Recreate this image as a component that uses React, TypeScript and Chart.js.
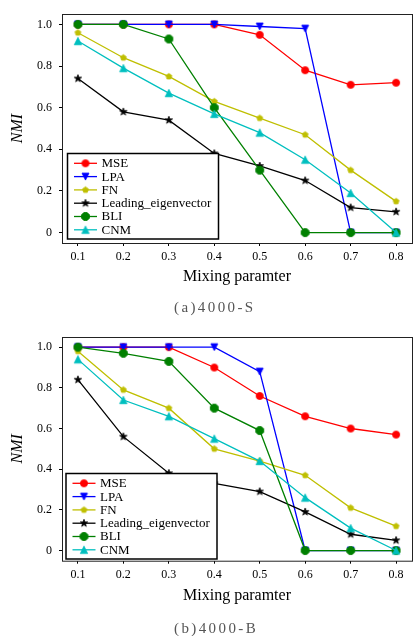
import React, { useEffect, useRef } from 'react';
import { Chart, registerables } from 'chart.js';

Chart.register(...registerables);

// ---------- data ----------
const mixing = [0.1, 0.2, 0.3, 0.4, 0.5, 0.6, 0.7, 0.8];
const xTickValues = [0.1, 0.2, 0.3, 0.4, 0.5, 0.6, 0.7, 0.8];
const yTickValues = [0, 0.2, 0.4, 0.6, 0.8, 1.0];
const seriesNames = ['MSE', 'LPA', 'FN', 'Leading_eigenvector', 'BLI', 'CNM'];

// (a) 4000-S
const mseS = [1.0, 1.0, 1.0, 1.0, 0.95, 0.78, 0.71, 0.72];
const lpaS = [1.0, 1.0, 1.0, 1.0, 0.99, 0.98, 0, 0];
const fnS = [0.96, 0.84, 0.75, 0.63, 0.55, 0.47, 0.3, 0.15];
const leadS = [0.74, 0.58, 0.54, 0.38, 0.32, 0.25, 0.12, 0.1];
const bliS = [1.0, 1.0, 0.93, 0.6, 0.3, 0, 0, 0];
const cnmS = [0.92, 0.79, 0.67, 0.57, 0.48, 0.35, 0.19, 0];

// (b) 4000-B
const mseB = [1.0, 1.0, 1.0, 0.9, 0.76, 0.66, 0.6, 0.57];
const lpaB = [1.0, 1.0, 1.0, 1.0, 0.88, 0, 0, 0];
const fnB = [0.98, 0.79, 0.7, 0.5, 0.44, 0.37, 0.21, 0.12];
const leadB = [0.84, 0.56, 0.38, 0.33, 0.29, 0.19, 0.08, 0.05];
const bliB = [1.0, 0.97, 0.93, 0.7, 0.59, 0, 0, 0];
const cnmB = [0.94, 0.74, 0.66, 0.55, 0.44, 0.26, 0.11, 0];

const captionA = '(a)4000-S';
const captionB = '(b)4000-B';
const xTitle = 'Mixing paramter';
const yTitle = 'NMI';

// ---------- styles ----------
const colors = ['#ff0000', '#0000ff', '#bfbf00', '#000000', '#008000', '#00bfbf'];
const shapes = ['circle', 'triDown', 'pentagon', 'star', 'octagon', 'triUp'];
const markerR = [3.6, 3.5, 3.1, 3.9, 4.3, 3.7];
const FONT = '"Liberation Serif", "Times New Roman", serif';

function makeMarker(shape: string, color: string, r: number): HTMLCanvasElement {
  const size = Math.ceil(r * 2) + 4;
  const c = document.createElement('canvas');
  c.width = size;
  c.height = size;
  const ctx = c.getContext('2d')!;
  const cx = size / 2;
  const cy = size / 2;
  ctx.fillStyle = color;
  ctx.strokeStyle = color;
  ctx.lineWidth = 0.8;
  ctx.beginPath();
  const poly = (n: number, rot: number, rr: number) => {
    for (let k = 0; k < n; k++) {
      const a = rot + (k * 2 * Math.PI) / n;
      const px = cx + rr * Math.cos(a);
      const py = cy + rr * Math.sin(a);
      if (k === 0) ctx.moveTo(px, py);
      else ctx.lineTo(px, py);
    }
    ctx.closePath();
  };
  if (shape === 'circle') {
    ctx.arc(cx, cy, r, 0, Math.PI * 2);
  } else if (shape === 'triDown') {
    ctx.moveTo(cx, cy + r);
    ctx.lineTo(cx - r, cy - r);
    ctx.lineTo(cx + r, cy - r);
    ctx.closePath();
  } else if (shape === 'triUp') {
    ctx.moveTo(cx, cy - r);
    ctx.lineTo(cx - r, cy + r);
    ctx.lineTo(cx + r, cy + r);
    ctx.closePath();
  } else if (shape === 'pentagon') {
    poly(5, -Math.PI / 2, r);
  } else if (shape === 'octagon') {
    poly(8, Math.PI / 8, r);
  } else if (shape === 'star') {
    for (let k = 0; k < 10; k++) {
      const a = -Math.PI / 2 + (k * Math.PI) / 5;
      const rr = k % 2 === 0 ? r : r * 0.4;
      const px = cx + rr * Math.cos(a);
      const py = cy + rr * Math.sin(a);
      if (k === 0) ctx.moveTo(px, py);
      else ctx.lineTo(px, py);
    }
    ctx.closePath();
  }
  ctx.fill();
  ctx.stroke();
  return c;
}

type Cfg = {
  series: number[][];
  padTop: number;
  axisH: number;
  padBottom: number;
  legendDx: number;
  legendDy: number;
};

function NmiChart({ cfg }: { cfg: Cfg }) {
  const ref = useRef<HTMLCanvasElement>(null);
  useEffect(() => {
    const markers = shapes.map((s, i) => makeMarker(s, colors[i], markerR[i]));
    const datasets = seriesNames.map((name, i) => ({
      label: name,
      data: mixing.map((x, j) => ({ x, y: cfg.series[i][j] })),
      borderColor: colors[i],
      backgroundColor: colors[i],
      borderWidth: 1.3,
      pointStyle: markers[i] as any,
      pointRadius: 1,
      pointHoverRadius: 1,
      pointBorderWidth: 0,
      tension: 0,
      order: seriesNames.length - i,
      clip: 8,
    }));

    const framePlugin = {
      id: 'frameLegend',
      afterDatasetsDraw(chart: any) {
        const { ctx, chartArea: ca } = chart;
        ctx.save();
        ctx.strokeStyle = '#222';
        ctx.lineWidth = 1;
        ctx.strokeRect(ca.left + 0.5, ca.top + 0.5, ca.right - ca.left, ca.bottom - ca.top);
        // legend box
        const bw = 151;
        const bh = 85.5;
        const bx = ca.left + cfg.legendDx;
        const by = ca.bottom - cfg.legendDy - bh;
        ctx.fillStyle = '#ffffff';
        ctx.fillRect(bx, by, bw, bh);
        ctx.strokeStyle = '#000';
        ctx.lineWidth = 1.5;
        ctx.strokeRect(bx, by, bw, bh);
        ctx.font = `13px ${FONT}`;
        ctx.textBaseline = 'middle';
        ctx.textAlign = 'left';
        seriesNames.forEach((name, i) => {
          const y = by + 9.8 + i * 13.3;
          ctx.strokeStyle = colors[i];
          ctx.lineWidth = 1.3;
          ctx.beginPath();
          ctx.moveTo(bx + 6.5, y);
          ctx.lineTo(bx + 29.5, y);
          ctx.stroke();
          const m = markers[i];
          ctx.drawImage(m, bx + 18 - m.width / 2, y - m.height / 2);
          ctx.fillStyle = '#000';
          ctx.fillText(name, bx + 34, y + 0.5);
        });
        ctx.restore();
      },
    };

    const tickFont = { family: FONT, size: 12 };
    const zeroPad = (s: any) => {
      s.paddingLeft = 0;
      s.paddingRight = 0;
      s.paddingTop = 0;
      s.paddingBottom = 0;
    };
    const chart = new Chart(ref.current!, {
      type: 'line',
      data: { datasets: datasets as any },
      options: {
        animation: false,
        responsive: false,
        events: [],
        layout: { padding: { top: cfg.padTop, right: 1, bottom: cfg.padBottom, left: 0 } },
        plugins: {
          legend: { display: false },
          tooltip: { enabled: false },
          title: { display: false },
        },
        scales: {
          x: {
            type: 'linear',
            min: 0.065,
            max: 0.835,
            afterBuildTicks: (s: any) => {
              s.ticks = xTickValues.map((v) => ({ value: v }));
            },
            afterFit: (s: any) => {
              s.height = cfg.axisH;
              zeroPad(s);
            },
            ticks: {
              callback: (v: any) => Number(v).toFixed(1),
              font: tickFont,
              color: '#000',
              padding: 4,
              maxRotation: 0,
              autoSkip: false,
            },
            grid: { display: true, drawOnChartArea: false, drawTicks: true, tickLength: 3, color: '#000', lineWidth: 1 },
            border: { display: false },
            title: {
              display: true,
              text: xTitle,
              font: { family: FONT, size: 16 },
              color: '#000',
              padding: { top: 0, bottom: 0 },
            },
          },
          y: {
            type: 'linear',
            min: -0.05,
            max: 1.05,
            afterBuildTicks: (s: any) => {
              s.ticks = yTickValues.map((v) => ({ value: v }));
            },
            afterFit: (s: any) => {
              s.width = 62;
              zeroPad(s);
            },
            ticks: {
              callback: (v: any) => (Number(v) === 0 ? '0' : Number(v).toFixed(1)),
              font: tickFont,
              color: '#000',
              padding: 7,
            },
            grid: { display: true, drawOnChartArea: false, drawTicks: true, tickLength: 3, color: '#000', lineWidth: 1 },
            border: { display: false },
            title: {
              display: true,
              text: yTitle,
              font: { family: FONT, size: 16, style: 'italic' },
              color: '#000',
              padding: { top: 8, bottom: 0 },
            },
          },
        },
      } as any,
      plugins: [framePlugin],
    });
    return () => chart.destroy();
  }, [cfg]);
  return <canvas ref={ref} width={413} height={318} style={{ display: 'block', width: 413, height: 318 }} />;
}

const cfgA: Cfg = {
  series: [mseS, lpaS, fnS, leadS, bliS, cnmS],
  padTop: 14,
  axisH: 43.6,
  padBottom: 31.4,
  legendDx: 5.5,
  legendDy: 4,
};
const cfgB: Cfg = {
  series: [mseB, lpaB, fnB, leadB, bliB, cnmB],
  padTop: 19,
  axisH: 44.9,
  padBottom: 30.4,
  legendDx: 4,
  legendDy: 1.7,
};

const captionStyle: React.CSSProperties = {
  position: 'absolute',
  left: 174,
  width: 100,
  fontFamily: FONT,
  fontSize: 15,
  letterSpacing: '2.4px',
  lineHeight: '18px',
  color: '#555',
  whiteSpace: 'nowrap',
};

export default function App() {
  return (
    <div style={{ position: 'absolute', left: 0, top: 0, width: 413, height: 636, background: '#fff', overflow: 'hidden' }}>
      <div style={{ position: 'absolute', left: 0, top: 0 }}>
        <NmiChart cfg={cfgA} />
      </div>
      <div style={{ ...captionStyle, top: 298 }}>{captionA}</div>
      <div style={{ position: 'absolute', left: 0, top: 318 }}>
        <NmiChart cfg={cfgB} />
      </div>
      <div style={{ ...captionStyle, top: 619 }}>{captionB}</div>
    </div>
  );
}
